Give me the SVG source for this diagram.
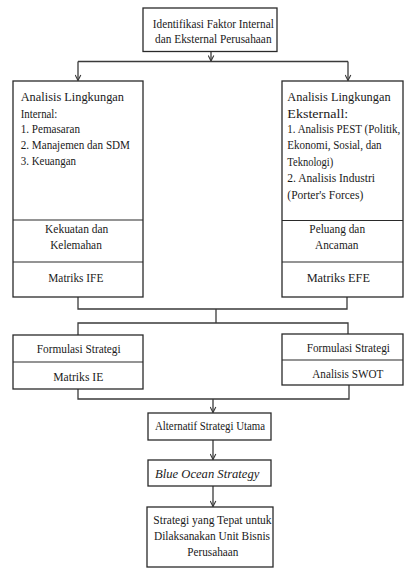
<svg xmlns="http://www.w3.org/2000/svg" width="404" height="568" viewBox="0 0 404 568" font-family="'Liberation Serif', 'Times New Roman', 'DejaVu Serif', serif">
<defs>
<style>
.b{fill:#fff;stroke:#2a2a2a;stroke-width:1.3}
.d{stroke:#2a2a2a;stroke-width:1.2;fill:none}
.c{stroke:#3a3a3a;stroke-width:1.3;fill:none}
text{font-family:'Liberation Serif','Times New Roman','DejaVu Serif',serif;font-size:13px;fill:#1a1a1a}
.m{text-anchor:middle}
</style>
<marker id="ah" viewBox="0 0 10 10" refX="9" refY="5" markerWidth="7" markerHeight="7" markerUnits="userSpaceOnUse" orient="auto">
<path d="M1,1 L9,5 L1,9" fill="none" stroke="#3a3a3a" stroke-width="1.6"/>
</marker>
</defs>
<rect width="404" height="568" fill="#fff"/>
<g id="connectors">
<path class="c" d="M211,51.5 V61" marker-end="url(#ah)"/>
<path class="c" d="M78,61.5 H348"/>
<path class="c" d="M78,61.5 V80.5" marker-end="url(#ah)"/>
<path class="c" d="M348,61.5 V80.5" marker-end="url(#ah)"/>
<path class="c" d="M78,297 V309 H347 V297"/>
<path class="c" d="M216,309 V323"/>
<path class="c" d="M78,335 V323 H348 V334"/>
<path class="c" d="M78,389 V399 H349 V385"/>
<path class="c" d="M213,399 V412.5" marker-end="url(#ah)"/>
<path class="c" d="M213,440 V459.5" marker-end="url(#ah)"/>
<path class="c" d="M213,486 V506.5" marker-end="url(#ah)"/>
</g>
<g id="n-identifikasi">
<rect class="b" x="143" y="8" width="134" height="43.5"/>
<text class="m" x="213.3" y="28" textLength="121" lengthAdjust="spacingAndGlyphs">Identifikasi Faktor Internal</text>
<text class="m" x="213.3" y="43" textLength="116.5" lengthAdjust="spacingAndGlyphs">dan Eksternal Perusahaan</text>
</g>
<g id="n-internal">
<rect class="b" x="13" y="81" width="130" height="216"/>
<line class="d" x1="13" y1="220" x2="143" y2="220"/>
<line class="d" x1="13" y1="262" x2="143" y2="262"/>
<text x="20.7" y="101" textLength="103.3" lengthAdjust="spacingAndGlyphs">Analisis Lingkungan</text>
<text x="20.7" y="117.5" textLength="36.7" lengthAdjust="spacingAndGlyphs">Internal:</text>
<text x="20.7" y="133" textLength="59.3" lengthAdjust="spacingAndGlyphs">1. Pemasaran</text>
<text x="20.7" y="149" textLength="109.3" lengthAdjust="spacingAndGlyphs">2. Manajemen dan SDM</text>
<text x="20.7" y="165" textLength="55.3" lengthAdjust="spacingAndGlyphs">3. Keuangan</text>
<text class="m" x="76.7" y="233" textLength="63.3" lengthAdjust="spacingAndGlyphs">Kekuatan dan</text>
<text class="m" x="76" y="249" textLength="51.7" lengthAdjust="spacingAndGlyphs">Kelemahan</text>
<text class="m" x="75.8" y="282" textLength="55" lengthAdjust="spacingAndGlyphs">Matriks IFE</text>
</g>
<g id="n-eksternal">
<rect class="b" x="282" y="81" width="121" height="216"/>
<line class="d" x1="282" y1="220.5" x2="403" y2="220.5"/>
<line class="d" x1="282" y1="262" x2="403" y2="262"/>
<text x="287.3" y="101" textLength="103.3" lengthAdjust="spacingAndGlyphs">Analisis Lingkungan</text>
<text x="287.3" y="117.5" textLength="61" lengthAdjust="spacingAndGlyphs">Eksternall:</text>
<text x="287.3" y="133" textLength="113" lengthAdjust="spacingAndGlyphs">1. Analisis PEST (Politik,</text>
<text x="287.3" y="149" textLength="94.3" lengthAdjust="spacingAndGlyphs">Ekonomi, Sosial, dan</text>
<text x="287.3" y="165.5" textLength="46" lengthAdjust="spacingAndGlyphs">Teknologi)</text>
<text x="287.3" y="182" textLength="87.7" lengthAdjust="spacingAndGlyphs">2. Analisis Industri</text>
<text x="287.3" y="198.5" textLength="76" lengthAdjust="spacingAndGlyphs">(Porter's Forces)</text>
<text class="m" x="337.2" y="233" textLength="55.7" lengthAdjust="spacingAndGlyphs">Peluang dan</text>
<text class="m" x="336.7" y="249" textLength="43.3" lengthAdjust="spacingAndGlyphs">Ancaman</text>
<text class="m" x="338.3" y="282" textLength="63.3" lengthAdjust="spacingAndGlyphs">Matriks EFE</text>
</g>
<g id="n-formulasi-ie">
<rect class="b" x="13" y="335" width="130" height="54"/>
<line class="d" x1="13" y1="362" x2="143" y2="362"/>
<text class="m" x="78.7" y="353" textLength="84" lengthAdjust="spacingAndGlyphs">Formulasi Strategi</text>
<text class="m" x="78.3" y="380.7" textLength="50" lengthAdjust="spacingAndGlyphs">Matriks IE</text>
</g>
<g id="n-formulasi-swot">
<rect class="b" x="282" y="334" width="121" height="51"/>
<line class="d" x1="282" y1="360" x2="403" y2="360"/>
<text class="m" x="348.3" y="351.7" textLength="83.3" lengthAdjust="spacingAndGlyphs">Formulasi Strategi</text>
<text class="m" x="347.8" y="378" textLength="71" lengthAdjust="spacingAndGlyphs">Analisis SWOT</text>
</g>
<g id="n-alternatif">
<rect class="b" x="148" y="413" width="123" height="27"/>
<text class="m" x="210" y="429.5" textLength="110" lengthAdjust="spacingAndGlyphs">Alternatif Strategi Utama</text>
</g>
<g id="n-blue-ocean">
<rect class="b" x="148" y="460" width="123" height="26"/>
<text class="m" x="207.2" y="478.3" font-style="italic" textLength="104.3" lengthAdjust="spacingAndGlyphs">Blue Ocean Strategy</text>
</g>
<g id="n-strategi">
<rect class="b" x="147" y="507" width="126" height="60"/>
<text class="m" x="212.5" y="524" textLength="118.3" lengthAdjust="spacingAndGlyphs">Strategi yang Tepat untuk</text>
<text class="m" x="212" y="540" textLength="116" lengthAdjust="spacingAndGlyphs">Dilaksanakan Unit Bisnis</text>
<text class="m" x="212.8" y="556" textLength="51" lengthAdjust="spacingAndGlyphs">Perusahaan</text>
</g>
</svg>
